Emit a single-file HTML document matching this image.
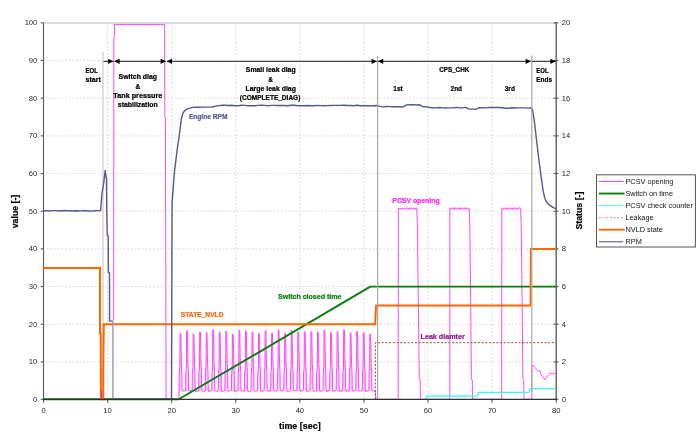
<!DOCTYPE html>
<html lang="en"><head><meta charset="utf-8"><title>EOL diagnostic chart</title>
<style>html,body{margin:0;padding:0;background:#fff;}body{width:700px;height:437px;overflow:hidden;}</style></head>
<body>
<svg width="700" height="437" viewBox="0 0 700 437" style="display:block">
<rect width="700" height="437" fill="#fff"/>
<g>
<g stroke="#dbdbdb" stroke-width="1" stroke-dasharray="1.83 1.83"><line x1="46.75" y1="361.92" x2="556.2" y2="361.92"/><line x1="46.75" y1="324.24" x2="556.2" y2="324.24"/><line x1="46.75" y1="286.56" x2="556.2" y2="286.56"/><line x1="46.75" y1="248.88" x2="556.2" y2="248.88"/><line x1="46.75" y1="211.2" x2="556.2" y2="211.2"/><line x1="46.75" y1="173.52" x2="556.2" y2="173.52"/><line x1="46.75" y1="135.84" x2="556.2" y2="135.84"/><line x1="46.75" y1="98.16" x2="556.2" y2="98.16"/><line x1="46.75" y1="60.48" x2="556.2" y2="60.48"/><line x1="107.59" y1="23.8" x2="107.59" y2="399.3"/><line x1="171.68" y1="23.8" x2="171.68" y2="399.3"/><line x1="235.77" y1="23.8" x2="235.77" y2="399.3"/><line x1="299.86" y1="23.8" x2="299.86" y2="399.3"/><line x1="363.95" y1="23.8" x2="363.95" y2="399.3"/><line x1="428.04" y1="23.8" x2="428.04" y2="399.3"/><line x1="492.13" y1="23.8" x2="492.13" y2="399.3"/></g>
<line x1="43.5" y1="23" x2="556.2" y2="23" stroke="#cfcfcf" stroke-width="1.4"/>
<g stroke="#5e5e5e" stroke-width="1.15"><line x1="43.5" y1="22.8" x2="43.5" y2="399.8"/><line x1="556.2" y1="22.8" x2="556.2" y2="399.8" stroke-width="1.4"/><line x1="40.7" y1="399.3" x2="43.5" y2="399.3"/><line x1="553.6" y1="399.3" x2="558.5" y2="399.3"/><line x1="40.7" y1="361.92" x2="43.5" y2="361.92"/><line x1="553.6" y1="361.92" x2="558.5" y2="361.92"/><line x1="40.7" y1="324.24" x2="43.5" y2="324.24"/><line x1="553.6" y1="324.24" x2="558.5" y2="324.24"/><line x1="40.7" y1="286.56" x2="43.5" y2="286.56"/><line x1="553.6" y1="286.56" x2="558.5" y2="286.56"/><line x1="40.7" y1="248.88" x2="43.5" y2="248.88"/><line x1="553.6" y1="248.88" x2="558.5" y2="248.88"/><line x1="40.7" y1="211.2" x2="43.5" y2="211.2"/><line x1="553.6" y1="211.2" x2="558.5" y2="211.2"/><line x1="40.7" y1="173.52" x2="43.5" y2="173.52"/><line x1="553.6" y1="173.52" x2="558.5" y2="173.52"/><line x1="40.7" y1="135.84" x2="43.5" y2="135.84"/><line x1="553.6" y1="135.84" x2="558.5" y2="135.84"/><line x1="40.7" y1="98.16" x2="43.5" y2="98.16"/><line x1="553.6" y1="98.16" x2="558.5" y2="98.16"/><line x1="40.7" y1="60.48" x2="43.5" y2="60.48"/><line x1="553.6" y1="60.48" x2="558.5" y2="60.48"/><line x1="40.7" y1="22.8" x2="43.5" y2="22.8"/><line x1="553.6" y1="22.8" x2="558.5" y2="22.8"/><line x1="43.5" y1="399.3" x2="43.5" y2="402.7"/><line x1="107.59" y1="399.3" x2="107.59" y2="402.7"/><line x1="171.68" y1="399.3" x2="171.68" y2="402.7"/><line x1="235.77" y1="399.3" x2="235.77" y2="402.7"/><line x1="299.86" y1="399.3" x2="299.86" y2="402.7"/><line x1="363.95" y1="399.3" x2="363.95" y2="402.7"/><line x1="428.04" y1="399.3" x2="428.04" y2="402.7"/><line x1="492.13" y1="399.3" x2="492.13" y2="402.7"/><line x1="556.22" y1="399.3" x2="556.22" y2="402.7"/></g>
<g font-family="Liberation Sans, Arial, sans-serif" font-size="7.6" fill="#262626"><text x="37.3" y="402.15" text-anchor="end">0</text><text x="561.8" y="402.15">0</text><text x="37.3" y="364.47" text-anchor="end">10</text><text x="561.8" y="364.47">2</text><text x="37.3" y="326.79" text-anchor="end">20</text><text x="561.8" y="326.79">4</text><text x="37.3" y="289.11" text-anchor="end">30</text><text x="561.8" y="289.11">6</text><text x="37.3" y="251.43" text-anchor="end">40</text><text x="561.8" y="251.43">8</text><text x="37.3" y="213.75" text-anchor="end">50</text><text x="561.8" y="213.75">10</text><text x="37.3" y="176.07" text-anchor="end">60</text><text x="561.8" y="176.07">12</text><text x="37.3" y="138.39" text-anchor="end">70</text><text x="561.8" y="138.39">14</text><text x="37.3" y="100.71" text-anchor="end">80</text><text x="561.8" y="100.71">16</text><text x="37.3" y="63.03" text-anchor="end">90</text><text x="561.8" y="63.03">18</text><text x="37.3" y="25.35" text-anchor="end">100</text><text x="561.8" y="25.35">20</text><text x="43.5" y="413.2" text-anchor="middle">0</text><text x="107.59" y="413.2" text-anchor="middle">10</text><text x="171.68" y="413.2" text-anchor="middle">20</text><text x="235.77" y="413.2" text-anchor="middle">30</text><text x="299.86" y="413.2" text-anchor="middle">40</text><text x="363.95" y="413.2" text-anchor="middle">50</text><text x="428.04" y="413.2" text-anchor="middle">60</text><text x="492.13" y="413.2" text-anchor="middle">70</text><text x="556.22" y="413.2" text-anchor="middle">80</text></g>
<g font-family="Liberation Sans, Arial, sans-serif" font-size="8.9" font-weight="bold" fill="#000" stroke="#000" stroke-width="0.2">
<text x="299.8" y="429.2" text-anchor="middle" textLength="41.6" lengthAdjust="spacingAndGlyphs">time [sec]</text>
<text transform="translate(17.5,211.5) rotate(-90)" text-anchor="middle" textLength="33.5" lengthAdjust="spacingAndGlyphs">value [-]</text>
<text transform="translate(581.8,210.6) rotate(-90)" text-anchor="middle" textLength="38" lengthAdjust="spacingAndGlyphs">Status [-]</text>
</g>
<line x1="103" y1="52" x2="103" y2="399.3" stroke="#d8d8d8" stroke-width="1.6"/>
<polygon fill="#ff50ff" fill-opacity="0.28" stroke="none" points="178.9,390.93 178.95,399.3 179.05,389.93 179.25,373.22 179.85,367.2 180.05,334.28 180.35,333.28 180.85,334.48 181.2,352.5 181.4,363.8 181.85,371.34 182.05,389.93 182.55,391.15 183.25,390.8 183.95,391.14 184.65,390.82 185.25,391.2 185.59,389.93 185.79,373.22 186.4,367.2 186.59,331.65 186.9,330.65 187.4,331.85 187.75,352.5 187.94,363.8 188.4,371.34 188.59,389.93 189.09,390.99 189.79,390.05 190.5,391.65 191.19,390.37 191.79,390.84 192.14,389.93 192.34,373.22 192.94,367.2 193.14,334.66 193.44,333.66 193.94,334.86 194.29,352.5 194.49,363.8 194.94,371.34 195.14,389.93 195.64,391.83 196.34,390.69 197.04,391.65 197.74,390.65 198.34,391.21 198.68,389.93 198.88,373.22 199.48,367.2 199.68,332.78 199.98,331.78 200.48,332.98 200.83,352.5 201.03,363.8 201.48,371.34 201.68,389.93 202.18,391.07 202.88,390.92 203.58,391.69 204.28,390.71 204.88,391.3 205.23,389.93 205.43,373.22 206.03,367.2 206.23,333.15 206.53,332.15 207.03,333.35 207.38,352.5 207.58,363.8 208.03,371.34 208.23,389.93 208.73,391.54 209.43,390.12 210.13,391.57 210.83,390.8 211.43,390.9 211.77,389.93 211.97,373.22 212.57,367.2 212.77,330.52 213.07,329.52 213.57,330.72 213.92,352.5 214.12,363.8 214.57,371.34 214.77,389.93 215.27,390.96 215.97,391.25 216.67,391.25 217.37,390.97 217.97,391.42 218.32,389.93 218.52,373.22 219.12,367.2 219.32,332.78 219.62,331.78 220.12,332.98 220.47,352.5 220.67,363.8 221.12,371.34 221.32,389.93 221.82,391.58 222.52,391.32 223.22,391.17 223.92,391.07 224.52,391.03 224.86,389.93 225.06,373.22 225.66,367.2 225.86,332.02 226.16,331.02 226.66,332.22 227.01,352.5 227.21,363.8 227.66,371.34 227.86,389.93 228.36,391.78 229.06,391.26 229.76,390.84 230.46,390.21 231.06,390.83 231.41,389.93 231.61,373.22 232.21,367.2 232.41,335.04 232.71,334.04 233.21,335.24 233.56,352.5 233.76,363.8 234.21,371.34 234.41,389.93 234.91,391.8 235.61,390.64 236.31,391.42 237.01,390.42 237.61,391.09 237.95,389.93 238.15,373.22 238.75,367.2 238.95,330.89 239.25,329.89 239.75,331.09 240.1,352.5 240.3,363.8 240.75,371.34 240.95,389.93 241.45,391.28 242.15,390.52 242.85,391.38 243.55,390.79 244.15,391.45 244.5,389.93 244.7,373.22 245.3,367.2 245.5,331.65 245.8,330.65 246.3,331.85 246.65,352.5 246.85,363.8 247.3,371.34 247.5,389.93 248,391.55 248.7,391.33 249.4,391.68 250.1,391.32 250.7,391.24 251.04,389.93 251.24,373.22 251.84,367.2 252.04,332.78 252.34,331.78 252.84,332.98 253.19,352.5 253.39,363.8 253.84,371.34 254.04,389.93 254.54,391.08 255.24,391.24 255.94,391.79 256.64,391.21 257.24,391.15 257.59,389.93 257.79,373.22 258.39,367.2 258.59,334.28 258.89,333.28 259.39,334.48 259.74,352.5 259.94,363.8 260.39,371.34 260.59,389.93 261.09,391.58 261.79,390.33 262.49,391.65 263.19,390.78 263.79,390.89 264.13,389.93 264.33,373.22 264.93,367.2 265.13,331.27 265.43,330.27 265.93,331.47 266.28,352.5 266.48,363.8 266.93,371.34 267.13,389.93 267.63,390.99 268.33,391.23 269.03,391.82 269.73,390.15 270.33,391.35 270.68,389.93 270.88,373.22 271.48,367.2 271.68,333.91 271.98,332.91 272.48,334.11 272.83,352.5 273.03,363.8 273.48,371.34 273.68,389.93 274.18,391.3 274.88,390.24 275.58,391.06 276.28,391.03 276.88,391.42 277.22,389.93 277.42,373.22 278.02,367.2 278.22,330.52 278.52,329.52 279.02,330.72 279.37,352.5 279.57,363.8 280.02,371.34 280.22,389.93 280.72,390.97 281.42,390.89 282.12,390.78 282.82,390.97 283.42,390.93 283.77,389.93 283.97,373.22 284.57,367.2 284.77,333.91 285.07,332.91 285.57,334.11 285.92,352.5 286.12,363.8 286.57,371.34 286.77,389.93 287.27,391.73 287.97,391.41 288.67,391.29 289.37,391.33 289.97,390.91 290.31,389.93 290.51,373.22 291.11,367.2 291.31,330.89 291.61,329.89 292.11,331.09 292.46,352.5 292.66,363.8 293.11,371.34 293.31,389.93 293.81,391 294.51,390.87 295.21,390.77 295.91,390.29 296.51,391 296.86,389.93 297.06,373.22 297.66,367.2 297.86,332.78 298.16,331.78 298.66,332.98 299.01,352.5 299.21,363.8 299.66,371.34 299.86,389.93 300.36,391.48 301.06,390.25 301.76,390.78 302.46,391.16 303.06,390.92 303.4,389.93 303.6,373.22 304.2,367.2 304.4,332.4 304.7,331.4 305.2,332.6 305.55,352.5 305.75,363.8 306.2,371.34 306.4,389.93 306.9,391.8 307.6,391.29 308.3,391.15 309,390.63 309.6,391.1 309.95,389.93 310.15,373.22 310.75,367.2 310.95,332.4 311.25,331.4 311.75,332.6 312.1,352.5 312.3,363.8 312.75,371.34 312.95,389.93 313.45,391.51 314.15,390.87 314.85,391.35 315.55,390.84 316.15,391.48 316.5,389.93 316.69,373.22 317.3,367.2 317.5,332.78 317.8,331.78 318.3,332.98 318.64,352.5 318.85,363.8 319.3,371.34 319.5,389.93 320,391.39 320.69,390.64 321.39,391.53 322.1,390.34 322.69,390.9 323.04,389.93 323.24,373.22 323.84,367.2 324.04,330.52 324.34,329.52 324.84,330.72 325.19,352.5 325.39,363.8 325.84,371.34 326.04,389.93 326.54,391.81 327.24,390.76 327.94,391.34 328.64,390.05 329.24,391.01 329.59,389.93 329.79,373.22 330.39,367.2 330.59,333.15 330.89,332.15 331.39,333.35 331.74,352.5 331.94,363.8 332.39,371.34 332.59,389.93 333.09,391.46 333.79,390.06 334.49,391.41 335.19,390.86 335.79,390.69 336.13,389.93 336.33,373.22 336.93,367.2 337.13,332.4 337.43,331.4 337.93,332.6 338.28,352.5 338.48,363.8 338.93,371.34 339.13,389.93 339.63,391.5 340.33,390.69 341.03,391.48 341.73,390.49 342.33,391.27 342.68,389.93 342.88,373.22 343.48,367.2 343.68,330.14 343.98,329.14 344.48,330.34 344.83,352.5 345.03,363.8 345.48,371.34 345.68,389.93 346.18,391.6 346.88,390.06 347.58,390.8 348.28,390.91 348.88,391.5 349.22,389.93 349.42,373.22 350.02,367.2 350.22,333.53 350.52,332.53 351.02,333.73 351.37,352.5 351.57,363.8 352.02,371.34 352.22,389.93 352.72,391.16 353.42,390.67 354.12,391.39 354.82,390.45 355.42,390.96 355.77,389.93 355.97,373.22 356.57,367.2 356.77,332.02 357.07,331.02 357.57,332.22 357.92,352.5 358.12,363.8 358.57,371.34 358.77,389.93 359.27,391.22 359.97,390.55 360.67,391.39 361.37,390.42 361.97,390.97 362.31,389.93 362.51,373.22 363.11,367.2 363.31,333.53 363.61,332.53 364.11,333.73 364.46,352.5 364.66,363.8 365.11,371.34 365.31,389.93 365.81,391.63 366.51,390.07 367.21,391.36 367.91,390.99 368.51,390.91 368.86,389.93 369.06,373.22 369.66,367.2 369.86,334.66 370.16,333.66 370.66,334.86 371.01,352.5 371.21,363.8 371.66,371.34 371.86,389.93 372.96,391.43 373.76,390.53 374.76,391.13 375.2,390.93 375.2,390.93"/>
<polyline fill="none" stroke="#ff3cff" stroke-width="0.95" stroke-linejoin="round" points="113.75,320.5 113.8,40 114.4,36.6 114.5,24.6 164.6,24.6 164.8,117 165.4,118 166.1,399.3 178,399.3 178.95,399.3 179.05,389.93 179.25,373.22 179.85,367.2 180.05,334.28 180.35,333.28 180.85,334.48 181.2,352.5 181.4,363.8 181.85,371.34 182.05,389.93 182.55,391.15 183.25,390.8 183.95,391.14 184.65,390.82 185.25,391.2 185.59,389.93 185.79,373.22 186.4,367.2 186.59,331.65 186.9,330.65 187.4,331.85 187.75,352.5 187.94,363.8 188.4,371.34 188.59,389.93 189.09,390.99 189.79,390.05 190.5,391.65 191.19,390.37 191.79,390.84 192.14,389.93 192.34,373.22 192.94,367.2 193.14,334.66 193.44,333.66 193.94,334.86 194.29,352.5 194.49,363.8 194.94,371.34 195.14,389.93 195.64,391.83 196.34,390.69 197.04,391.65 197.74,390.65 198.34,391.21 198.68,389.93 198.88,373.22 199.48,367.2 199.68,332.78 199.98,331.78 200.48,332.98 200.83,352.5 201.03,363.8 201.48,371.34 201.68,389.93 202.18,391.07 202.88,390.92 203.58,391.69 204.28,390.71 204.88,391.3 205.23,389.93 205.43,373.22 206.03,367.2 206.23,333.15 206.53,332.15 207.03,333.35 207.38,352.5 207.58,363.8 208.03,371.34 208.23,389.93 208.73,391.54 209.43,390.12 210.13,391.57 210.83,390.8 211.43,390.9 211.77,389.93 211.97,373.22 212.57,367.2 212.77,330.52 213.07,329.52 213.57,330.72 213.92,352.5 214.12,363.8 214.57,371.34 214.77,389.93 215.27,390.96 215.97,391.25 216.67,391.25 217.37,390.97 217.97,391.42 218.32,389.93 218.52,373.22 219.12,367.2 219.32,332.78 219.62,331.78 220.12,332.98 220.47,352.5 220.67,363.8 221.12,371.34 221.32,389.93 221.82,391.58 222.52,391.32 223.22,391.17 223.92,391.07 224.52,391.03 224.86,389.93 225.06,373.22 225.66,367.2 225.86,332.02 226.16,331.02 226.66,332.22 227.01,352.5 227.21,363.8 227.66,371.34 227.86,389.93 228.36,391.78 229.06,391.26 229.76,390.84 230.46,390.21 231.06,390.83 231.41,389.93 231.61,373.22 232.21,367.2 232.41,335.04 232.71,334.04 233.21,335.24 233.56,352.5 233.76,363.8 234.21,371.34 234.41,389.93 234.91,391.8 235.61,390.64 236.31,391.42 237.01,390.42 237.61,391.09 237.95,389.93 238.15,373.22 238.75,367.2 238.95,330.89 239.25,329.89 239.75,331.09 240.1,352.5 240.3,363.8 240.75,371.34 240.95,389.93 241.45,391.28 242.15,390.52 242.85,391.38 243.55,390.79 244.15,391.45 244.5,389.93 244.7,373.22 245.3,367.2 245.5,331.65 245.8,330.65 246.3,331.85 246.65,352.5 246.85,363.8 247.3,371.34 247.5,389.93 248,391.55 248.7,391.33 249.4,391.68 250.1,391.32 250.7,391.24 251.04,389.93 251.24,373.22 251.84,367.2 252.04,332.78 252.34,331.78 252.84,332.98 253.19,352.5 253.39,363.8 253.84,371.34 254.04,389.93 254.54,391.08 255.24,391.24 255.94,391.79 256.64,391.21 257.24,391.15 257.59,389.93 257.79,373.22 258.39,367.2 258.59,334.28 258.89,333.28 259.39,334.48 259.74,352.5 259.94,363.8 260.39,371.34 260.59,389.93 261.09,391.58 261.79,390.33 262.49,391.65 263.19,390.78 263.79,390.89 264.13,389.93 264.33,373.22 264.93,367.2 265.13,331.27 265.43,330.27 265.93,331.47 266.28,352.5 266.48,363.8 266.93,371.34 267.13,389.93 267.63,390.99 268.33,391.23 269.03,391.82 269.73,390.15 270.33,391.35 270.68,389.93 270.88,373.22 271.48,367.2 271.68,333.91 271.98,332.91 272.48,334.11 272.83,352.5 273.03,363.8 273.48,371.34 273.68,389.93 274.18,391.3 274.88,390.24 275.58,391.06 276.28,391.03 276.88,391.42 277.22,389.93 277.42,373.22 278.02,367.2 278.22,330.52 278.52,329.52 279.02,330.72 279.37,352.5 279.57,363.8 280.02,371.34 280.22,389.93 280.72,390.97 281.42,390.89 282.12,390.78 282.82,390.97 283.42,390.93 283.77,389.93 283.97,373.22 284.57,367.2 284.77,333.91 285.07,332.91 285.57,334.11 285.92,352.5 286.12,363.8 286.57,371.34 286.77,389.93 287.27,391.73 287.97,391.41 288.67,391.29 289.37,391.33 289.97,390.91 290.31,389.93 290.51,373.22 291.11,367.2 291.31,330.89 291.61,329.89 292.11,331.09 292.46,352.5 292.66,363.8 293.11,371.34 293.31,389.93 293.81,391 294.51,390.87 295.21,390.77 295.91,390.29 296.51,391 296.86,389.93 297.06,373.22 297.66,367.2 297.86,332.78 298.16,331.78 298.66,332.98 299.01,352.5 299.21,363.8 299.66,371.34 299.86,389.93 300.36,391.48 301.06,390.25 301.76,390.78 302.46,391.16 303.06,390.92 303.4,389.93 303.6,373.22 304.2,367.2 304.4,332.4 304.7,331.4 305.2,332.6 305.55,352.5 305.75,363.8 306.2,371.34 306.4,389.93 306.9,391.8 307.6,391.29 308.3,391.15 309,390.63 309.6,391.1 309.95,389.93 310.15,373.22 310.75,367.2 310.95,332.4 311.25,331.4 311.75,332.6 312.1,352.5 312.3,363.8 312.75,371.34 312.95,389.93 313.45,391.51 314.15,390.87 314.85,391.35 315.55,390.84 316.15,391.48 316.5,389.93 316.69,373.22 317.3,367.2 317.5,332.78 317.8,331.78 318.3,332.98 318.64,352.5 318.85,363.8 319.3,371.34 319.5,389.93 320,391.39 320.69,390.64 321.39,391.53 322.1,390.34 322.69,390.9 323.04,389.93 323.24,373.22 323.84,367.2 324.04,330.52 324.34,329.52 324.84,330.72 325.19,352.5 325.39,363.8 325.84,371.34 326.04,389.93 326.54,391.81 327.24,390.76 327.94,391.34 328.64,390.05 329.24,391.01 329.59,389.93 329.79,373.22 330.39,367.2 330.59,333.15 330.89,332.15 331.39,333.35 331.74,352.5 331.94,363.8 332.39,371.34 332.59,389.93 333.09,391.46 333.79,390.06 334.49,391.41 335.19,390.86 335.79,390.69 336.13,389.93 336.33,373.22 336.93,367.2 337.13,332.4 337.43,331.4 337.93,332.6 338.28,352.5 338.48,363.8 338.93,371.34 339.13,389.93 339.63,391.5 340.33,390.69 341.03,391.48 341.73,390.49 342.33,391.27 342.68,389.93 342.88,373.22 343.48,367.2 343.68,330.14 343.98,329.14 344.48,330.34 344.83,352.5 345.03,363.8 345.48,371.34 345.68,389.93 346.18,391.6 346.88,390.06 347.58,390.8 348.28,390.91 348.88,391.5 349.22,389.93 349.42,373.22 350.02,367.2 350.22,333.53 350.52,332.53 351.02,333.73 351.37,352.5 351.57,363.8 352.02,371.34 352.22,389.93 352.72,391.16 353.42,390.67 354.12,391.39 354.82,390.45 355.42,390.96 355.77,389.93 355.97,373.22 356.57,367.2 356.77,332.02 357.07,331.02 357.57,332.22 357.92,352.5 358.12,363.8 358.57,371.34 358.77,389.93 359.27,391.22 359.97,390.55 360.67,391.39 361.37,390.42 361.97,390.97 362.31,389.93 362.51,373.22 363.11,367.2 363.31,333.53 363.61,332.53 364.11,333.73 364.46,352.5 364.66,363.8 365.11,371.34 365.31,389.93 365.81,391.63 366.51,390.07 367.21,391.36 367.91,390.99 368.51,390.91 368.86,389.93 369.06,373.22 369.66,367.2 369.86,334.66 370.16,333.66 370.66,334.86 371.01,352.5 371.21,363.8 371.66,371.34 371.86,389.93 372.96,391.43 373.76,390.53 374.76,391.13 375.2,390.93 376,399.3 398.2,399.3 398.3,208.56 403.7,208.76 404.3,207.66 405.5,209.56 406.7,207.66 407.9,209.56 409.1,207.66 410.3,209.56 411.5,207.66 412.7,209.56 413.9,207.66 415.1,209.56 416.3,207.66 416.8,208.56 417.4,225 418.3,300 419.3,379 420.2,380 420.4,399.3 449.8,399.3 449.9,208.56 450.4,207.66 451.6,209.56 452.8,207.66 454,209.56 455.2,207.66 456.4,209.56 457.6,207.66 458.8,209.56 460,207.66 461.2,209.56 462.4,207.66 463.6,209.56 464.8,207.66 466,209.56 467.2,207.66 468.4,209.56 469.2,208.56 469.8,225 470.7,300 471.4,379 472.3,380 472.5,399.3 501.7,399.3 501.8,208.56 502.3,207.66 503.5,209.56 504.7,207.66 505.9,209.56 507.1,207.66 508.3,209.56 509.5,207.66 510.7,209.56 511.9,207.66 513.1,209.56 514.3,207.66 515.5,209.56 516.7,207.66 517.9,209.56 519.1,207.66 520.6,208.56 521.2,225 522.1,300 522.9,379 523.8,380 524,399.3 531.8,399.3 531.9,365.7 533.4,365.3 535.2,368.2 537.2,370.1 538.4,371.6 539.7,370 541,374.5 543,377 545.1,379.9 547.2,376.4 549,374.3 551,373.3 552.9,373.9 554.6,373.6 556,374"/>
<polyline fill="none" stroke="#067f06" stroke-width="1.9" stroke-linejoin="round" points="43.5,399.3 178.73,399.3 370.3,286.66 556.2,286.66"/>
<polyline fill="none" stroke="#2ff6ff" stroke-width="1.15" stroke-linejoin="round" points="425.4,399.3 426.6,396.13 477.2,396.13 478.4,392.36 529,392.36 530.3,388.6 556.2,388.6"/>
<polyline fill="none" stroke="#a04040" stroke-width="1" stroke-dasharray="2 1.7" points="375.3,399.3 375.4,342.7 556.2,342.7"/>
<polyline fill="none" stroke="#ff6600" stroke-width="2" stroke-linejoin="miter" points="43.5,267.97 100,267.97 100,333.5 100.7,333.5 100.9,399.3 103.2,399.3 103.3,362 103.8,324.14 375.2,324.14 376,305.4 530.6,305.4 530.9,248.88 556.2,248.88"/>
<polyline fill="none" stroke="#ff2a90" stroke-width="1" points="101.6,399.3 101.6,390.5"/>
<polyline fill="none" stroke="#565693" stroke-width="1.4" stroke-linejoin="round" points="43.5,210.82 45.5,210.63 48.6,211.04 51.7,210.64 54.8,210.6 57.9,210.78 61,210.96 64.1,210.54 67.2,210.7 70.3,210.71 73.4,211.06 76.5,210.78 79.6,211.07 82.7,210.59 85.8,210.71 88.9,210.93 92,211.09 95.1,210.79 98.2,210.63 100.6,210.6 101.3,201.4 102,193 103.6,184 105.2,170.4 105.9,176 106.5,178.6 106.7,205 107.2,235.1 108.2,235.4 108.4,272.3 109.5,272.6 109.6,320.9 112.9,321.2"/>
<line x1="112.9" y1="321" x2="112.9" y2="399.3" stroke="#9c9ccc" stroke-width="1.5"/>
<polyline fill="none" stroke="#565693" stroke-width="1.4" stroke-linejoin="round" points="112.9,399.3 171.5,399.3 172.1,203 174.3,173.1 177.6,146.5 179.3,135.5 181.4,118.8 182.7,113.8 184.1,111.4 186,109.6 188.9,108.4 193,107.4 197.5,107.3 204,107.1 212,107 217,105.9 222,105.3 225,105.27 228.3,105.52 231.6,105.31 234.9,105.68 238.2,105.7 241.5,105.31 244.8,105.37 248.1,105.68 251.4,105.59 254.7,105.68 258,105.41 261.3,105.28 264.6,105.38 267.9,105.68 271.2,105.36 274.5,105.41 277.8,105.45 281.1,105.45 284.4,105.45 287.7,105.75 291,105.29 294.3,105.2 297.6,105.77 300.9,105.73 304.2,105.79 307.5,105.46 310.8,105.77 314.1,105.76 317.4,105.33 320.7,105.65 324,105.7 327.3,105.6 330.6,105.51 333.9,105.37 337.2,105.4 340.5,105.34 343.8,105.24 347.1,105.55 350.4,105.37 353.7,105.69 357,105.23 360.3,105.74 363.6,105.62 366.9,105.75 370.2,105.74 373.5,105.74 376.8,105.55 380.1,106.41 383.4,106.85 386.7,106.5 390,106.58 393.3,106.8 396.6,106.71 399.9,106.65 403.2,106.96 406.5,104.87 409.8,104.7 413.1,104.65 416.4,105.02 419.7,104.79 423,106.87 426.3,106.61 429.6,107.52 432.9,107.72 436.2,107.89 439.5,107.5 442.8,107.88 446.1,107.95 449.4,107.88 452.7,107.89 456,107.4 459.3,107.78 462.6,107.92 465.9,107.43 469.2,109.16 472.5,109.16 475.8,109.32 479.1,107.65 482.4,107.68 485.7,107.87 489,107.4 492.3,107.43 495.6,107.48 498.9,107.47 502.2,107.74 505.5,108.28 508.8,108.21 512.1,107.75 515.4,108 518.7,107.89 522,107.89 525.3,107.91 528.6,108.09 529.5,108.3 531.3,107.4 532.6,110 534.2,119.8 536.4,139 538.7,158.5 541,176 543.2,191.2 544.6,197.5 546.1,201.6 549.5,205.2 553,207.3 556.3,209"/>
<line x1="377.6" y1="56" x2="377.6" y2="399.3" stroke="#ababab" stroke-width="1.25"/>
<line x1="531.8" y1="55.5" x2="531.8" y2="392" stroke="#ababab" stroke-width="1.25"/>
<line x1="43" y1="399.3" x2="556.8" y2="399.3" stroke="#303030" stroke-width="1.3"/>
<line x1="103.5" y1="61.35" x2="113.3" y2="61.35" stroke="#222" stroke-width="1"/><polygon points="113.3,61.35 108.1,58.75 108.1,63.95" fill="#000"/>
<line x1="114.4" y1="61.35" x2="165.8" y2="61.35" stroke="#222" stroke-width="1"/><polygon points="165.8,61.35 160.6,58.75 160.6,63.95" fill="#000"/><polygon points="114.4,61.35 119.6,58.75 119.6,63.95" fill="#000"/>
<line x1="166.8" y1="61.35" x2="376.8" y2="61.35" stroke="#222" stroke-width="1"/><polygon points="376.8,61.35 371.6,58.75 371.6,63.95" fill="#000"/><polygon points="166.8,61.35 172,58.75 172,63.95" fill="#000"/>
<line x1="378" y1="61.35" x2="530.8" y2="61.35" stroke="#222" stroke-width="1"/><polygon points="530.8,61.35 525.6,58.75 525.6,63.95" fill="#000"/><polygon points="378,61.35 383.2,58.75 383.2,63.95" fill="#000"/>
<line x1="532" y1="61.35" x2="555.6" y2="61.35" stroke="#222" stroke-width="1"/><polygon points="555.6,61.35 550.4,58.75 550.4,63.95" fill="#000"/>
<g font-family="Liberation Sans, Arial, sans-serif" font-size="6.5" font-weight="bold" fill="#000" stroke="#000" stroke-width="0.22" paint-order="stroke">
<text x="85.5" y="73.4" text-anchor="start" textLength="12.5" lengthAdjust="spacingAndGlyphs">EOL</text>
<text x="85.5" y="82" text-anchor="start" textLength="15.5" lengthAdjust="spacingAndGlyphs">start</text>
<text x="137.8" y="79.4" text-anchor="middle" textLength="38.5" lengthAdjust="spacingAndGlyphs">Switch diag</text>
<text x="137.8" y="88.5" text-anchor="middle">&amp;</text>
<text x="137.8" y="97.6" text-anchor="middle" textLength="49" lengthAdjust="spacingAndGlyphs">Tank pressure</text>
<text x="137.8" y="106.7" text-anchor="middle" textLength="40" lengthAdjust="spacingAndGlyphs">stabilization</text>
<text x="270.7" y="72.4" text-anchor="middle" textLength="49.8" lengthAdjust="spacingAndGlyphs">Small leak diag</text>
<text x="270.7" y="81.6" text-anchor="middle">&amp;</text>
<text x="270.7" y="90.8" text-anchor="middle" textLength="50.5" lengthAdjust="spacingAndGlyphs">Large leak diag</text>
<text x="270.1" y="100" text-anchor="middle" textLength="60.5" lengthAdjust="spacingAndGlyphs">(COMPLETE_DIAG)</text>
<text x="454.2" y="72.4" text-anchor="middle" textLength="30.1" lengthAdjust="spacingAndGlyphs">CPS_CHK</text>
<text x="398" y="91" text-anchor="middle">1st</text>
<text x="456.3" y="91" text-anchor="middle">2nd</text>
<text x="509.8" y="91" text-anchor="middle">3rd</text>
<text x="536.2" y="72.7" text-anchor="start" textLength="12.5" lengthAdjust="spacingAndGlyphs">EOL</text>
<text x="536.2" y="81.7" text-anchor="start" textLength="15.8" lengthAdjust="spacingAndGlyphs">Ends</text>
<text x="188.9" y="119.1" text-anchor="start" textLength="38.5" lengthAdjust="spacingAndGlyphs" fill="#565693" stroke="#565693">Engine RPM</text>
<text x="392.3" y="202.7" text-anchor="start" textLength="47.3" lengthAdjust="spacingAndGlyphs" fill="#ff22ff" stroke="#ff22ff">PCSV opening</text>
<text x="180.8" y="316.6" text-anchor="start" textLength="42.7" lengthAdjust="spacingAndGlyphs" fill="#ff6600" stroke="#ff6600">STATE_NVLD</text>
<text x="278" y="298.6" text-anchor="start" textLength="63.5" lengthAdjust="spacingAndGlyphs" fill="#067f06" stroke="#067f06">Switch closed time</text>
<text x="420.5" y="338.7" text-anchor="start" textLength="44.3" lengthAdjust="spacingAndGlyphs" fill="#8a1a8a" stroke="#8a1a8a">Leak diamter</text>
</g>
<rect x="596.5" y="174.8" width="98.9" height="72.2" fill="#fff" stroke="#555" stroke-width="1"/>
<g font-family="Liberation Sans, Arial, sans-serif" font-size="7.3" fill="#111">
<line x1="598.9" y1="181.5" x2="623.2" y2="181.5" stroke="#ff3cff" stroke-width="1.0"/>
<text x="625.5" y="184.1">PCSV opening</text>
<line x1="598.9" y1="193.55" x2="624.6" y2="193.55" stroke="#067f06" stroke-width="1.9"/>
<text x="625.5" y="196.15">Switch on time</text>
<line x1="598.9" y1="205.6" x2="623.2" y2="205.6" stroke="#5af6ff" stroke-width="1.1"/>
<text x="625.5" y="208.2">PCSV check counter</text>
<line x1="598.9" y1="217.65" x2="623.2" y2="217.65" stroke="#d9a3a3" stroke-width="1.1" stroke-dasharray="2 1.7"/>
<text x="625.5" y="220.25">Leakage</text>
<line x1="598.9" y1="229.7" x2="624.6" y2="229.7" stroke="#ff6600" stroke-width="1.9"/>
<text x="625.5" y="232.3">NVLD state</text>
<line x1="598.9" y1="241.75" x2="623.2" y2="241.75" stroke="#6a6aa2" stroke-width="1.2"/>
<text x="625.5" y="244.35">RPM</text>
</g>
</g>
</svg>
</body></html>
